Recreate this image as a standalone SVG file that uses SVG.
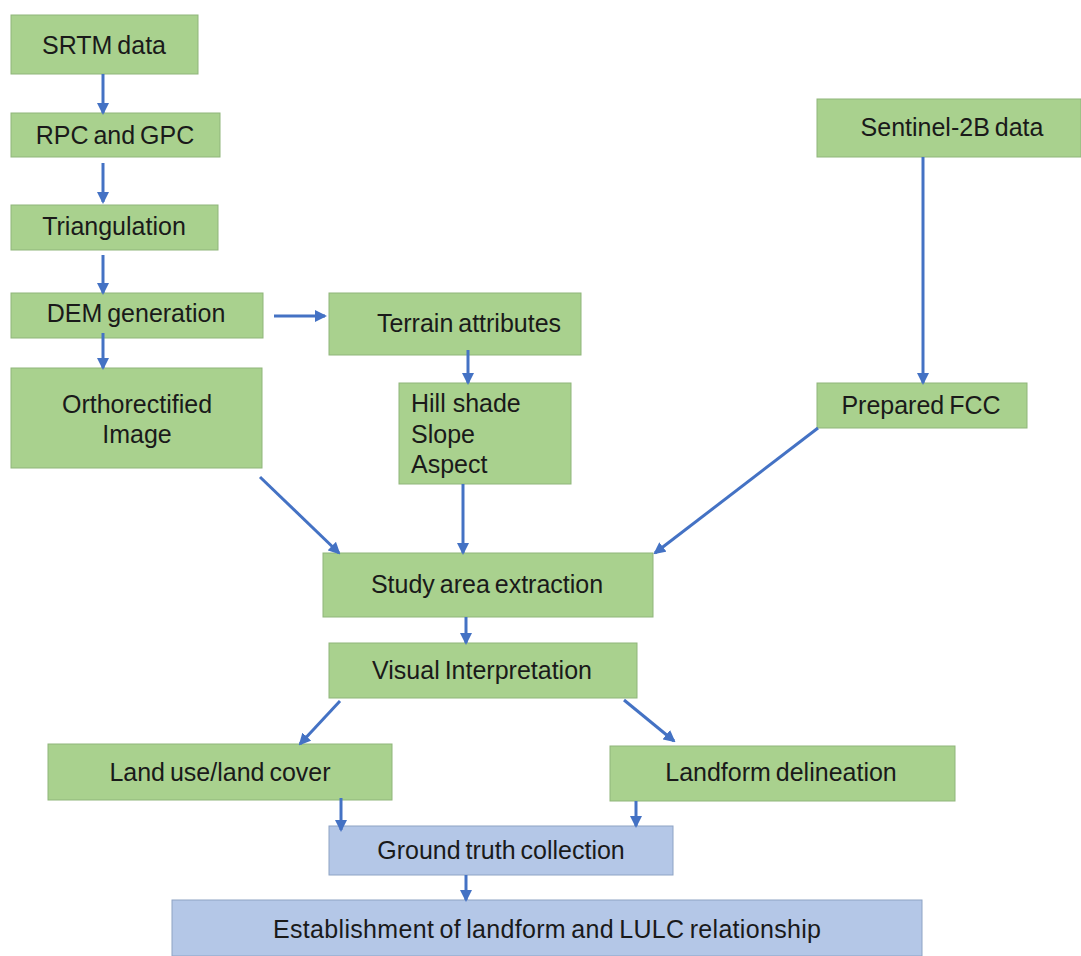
<svg xmlns="http://www.w3.org/2000/svg" width="1081" height="956" viewBox="0 0 1081 956">
<defs>
<marker id="ah" markerWidth="12" markerHeight="12" refX="10" refY="6" orient="auto" markerUnits="userSpaceOnUse" viewBox="0 0 12 12"><path d="M0,0 L12,6 L0,12 z" fill="#4472c4"/></marker>
<style>
.g{fill:#a9d18e;stroke:#8fb57a;stroke-width:1}
.b{fill:#b4c7e7;stroke:#8ea3c4;stroke-width:1}
.t{font-family:"Liberation Sans",Arial,sans-serif;font-size:25px;fill:#1a1a1a;text-anchor:middle;word-spacing:-2px}
.tl{font-family:"Liberation Sans",Arial,sans-serif;font-size:25px;fill:#1a1a1a}
.c line{stroke:#4472c4;stroke-width:3;marker-end:url(#ah)}
</style>
</defs>
<rect width="1081" height="956" fill="#ffffff"/>
<g id="srtm"><rect class="g" x="11" y="15" width="187" height="59"/><text class="t" x="104" y="54">SRTM data</text></g>
<g id="rpc"><rect class="g" x="11" y="113" width="209" height="44"/><text class="t" x="115" y="144">RPC and GPC</text></g>
<g id="tri"><rect class="g" x="11" y="205" width="207" height="45"/><text class="t" x="114" y="235">Triangulation</text></g>
<g id="dem"><rect class="g" x="11" y="293" width="252" height="45"/><text class="t" x="136" y="322">DEM generation</text></g>
<g id="ortho"><rect class="g" x="11" y="368" width="251" height="100"/><text class="t" x="137" y="413">Orthorectified</text><text class="t" x="137" y="443">Image</text></g>
<g id="terrain"><rect class="g" x="329" y="293" width="252" height="62"/><text class="t" x="469" y="332">Terrain attributes</text></g>
<g id="hill"><rect class="g" x="399" y="383" width="172" height="101"/><text class="tl" x="411" y="412">Hill shade</text><text class="tl" x="411" y="443">Slope</text><text class="tl" x="411" y="473">Aspect</text></g>
<g id="sentinel"><rect class="g" x="817" y="99" width="264" height="58"/><text class="t" x="952" y="136">Sentinel-2B data</text></g>
<g id="fcc"><rect class="g" x="817" y="383" width="210" height="45"/><text class="t" x="921" y="414">Prepared FCC</text></g>
<g id="study"><rect class="g" x="323" y="553" width="330" height="64"/><text class="t" x="487" y="593">Study area extraction</text></g>
<g id="visual"><rect class="g" x="329" y="643" width="308" height="55"/><text class="t" x="482" y="679">Visual Interpretation</text></g>
<g id="lulc"><rect class="g" x="48" y="744" width="344" height="56"/><text class="t" x="220" y="781">Land use/land cover</text></g>
<g id="landform"><rect class="g" x="610" y="746" width="345" height="55"/><text class="t" x="781" y="781">Landform delineation</text></g>
<g id="ground"><rect class="b" x="329" y="826" width="344" height="49"/><text class="t" x="501" y="859">Ground truth collection</text></g>
<g id="est"><rect class="b" x="172" y="900" width="750" height="56"/><text class="t" x="547" y="938" textLength="548" lengthAdjust="spacing">Establishment of landform and LULC relationship</text></g>
<g id="connectors" class="c">
<line x1="103" y1="74" x2="103" y2="113"/>
<line x1="103" y1="163" x2="103" y2="202"/>
<line x1="103" y1="255" x2="103" y2="293"/>
<line x1="103" y1="333" x2="103" y2="368"/>
<line x1="274" y1="316" x2="325" y2="316"/>
<line x1="468" y1="350" x2="468" y2="383"/>
<line x1="463" y1="484" x2="463" y2="553"/>
<line x1="260" y1="477" x2="339" y2="553"/>
<line x1="818" y1="428" x2="655" y2="553"/>
<line x1="923" y1="157" x2="923" y2="383"/>
<line x1="466" y1="617" x2="466" y2="643"/>
<line x1="340" y1="701" x2="300" y2="744"/>
<line x1="624" y1="700" x2="674" y2="741"/>
<line x1="341" y1="798" x2="341" y2="830"/>
<line x1="636" y1="801" x2="636" y2="826"/>
<line x1="466" y1="875" x2="466" y2="900"/>
</g>
</svg>
